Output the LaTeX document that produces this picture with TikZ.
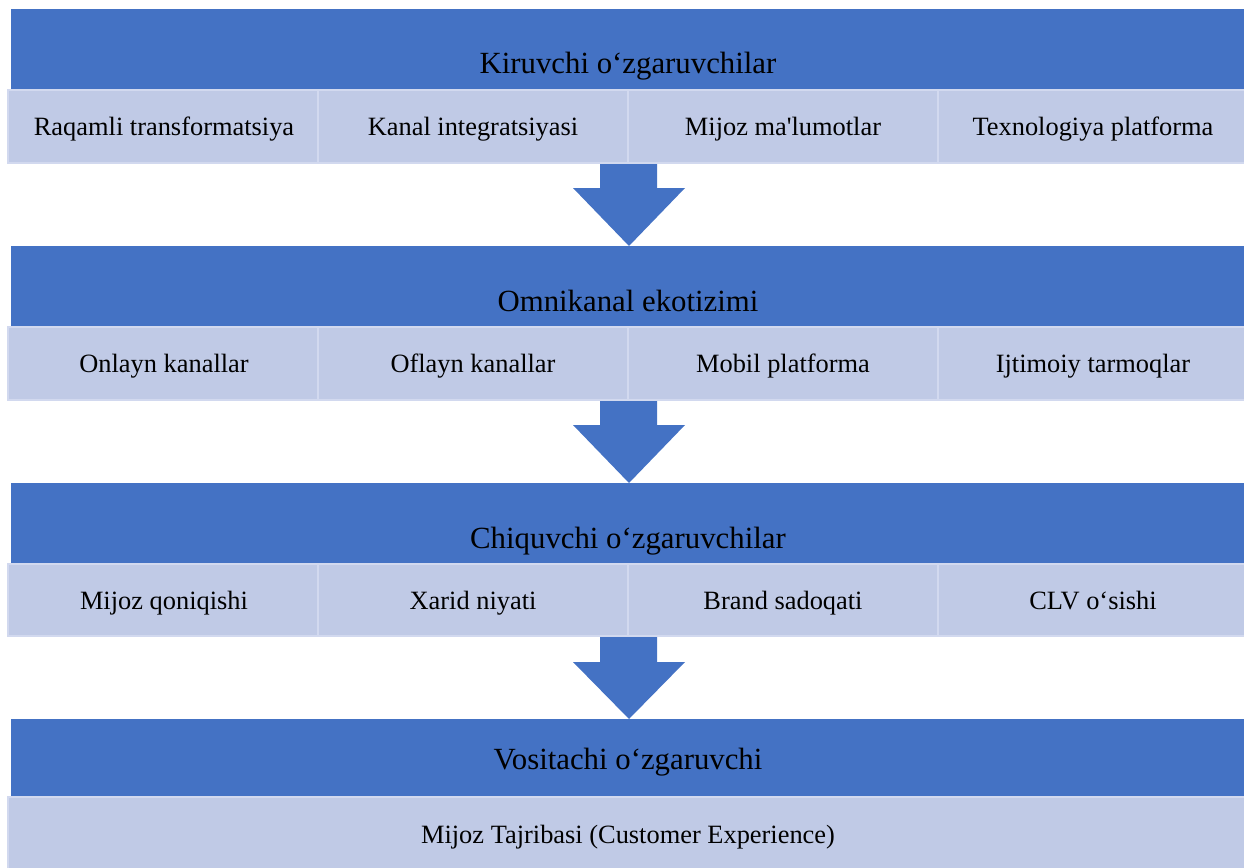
\documentclass[tikz,border=0pt]{standalone}
\usepackage{fontspec}
\setmainfont{Liberation Serif}[Ligatures=TeXOff]
\definecolor{hdrblue}{HTML}{4472C4}
\definecolor{celllight}{HTML}{C0CAE6}
\definecolor{cellline}{HTML}{D2D9EF}
\begin{document}
\begin{tikzpicture}[x=0.5pt,y=-0.5pt,
  hdr/.style={fill=hdrblue,draw=none},
  cellbox/.style={fill=celllight,draw=cellline,line width=1pt},
  hdrtext/.style={anchor=base,inner sep=0pt,font=\fontsize{15.4}{18}\selectfont},
  celltext/.style={anchor=base,inner sep=0pt,font=\fontsize{13.2}{16}\selectfont},
  downarrow/.style={fill=hdrblue,draw=none}]
\useasboundingbox (0,0) rectangle (1244,868);
\clip (0,0) rectangle (1244,868);
% ---------- Row 1 ----------
\fill[hdr] (11,9) rectangle (1250,90);
\foreach \i in {0,1,2,3}{\draw[cellbox] ({8+310*\i},90) rectangle ({318+310*\i},163);}
\node[hdrtext] (h1) at (628,73) {Kiruvchi o‘zgaruvchilar};
\node[celltext] (c11) at (164,135) {Raqamli transformatsiya};
\node[celltext] (c12) at (473,135) {Kanal integratsiyasi};
\node[celltext] (c13) at (783,135) {Mijoz ma'lumotlar};
\node[celltext] (c14) at (1093,135) {Texnologiya platforma};
% arrow 1
\fill[downarrow] (600,164) -- (657,164) -- (657,188) -- (685,188) -- (629,246) -- (573,188) -- (600,188) -- cycle;
% ---------- Row 2 ----------
\fill[hdr] (11,246) rectangle (1250,327);
\foreach \i in {0,1,2,3}{\draw[cellbox] ({8+310*\i},327) rectangle ({318+310*\i},400);}
\node[hdrtext] (h2) at (628,311) {Omnikanal ekotizimi};
\node[celltext] (c21) at (164,372) {Onlayn kanallar};
\node[celltext] (c22) at (473,372) {Oflayn kanallar};
\node[celltext] (c23) at (783,372) {Mobil platforma};
\node[celltext] (c24) at (1093,372) {Ijtimoiy tarmoqlar};
% arrow 2
\fill[downarrow] (600,401) -- (657,401) -- (657,425) -- (685,425) -- (629,483) -- (573,425) -- (600,425) -- cycle;
% ---------- Row 3 ----------
\fill[hdr] (11,483) rectangle (1250,564);
\foreach \i in {0,1,2,3}{\draw[cellbox] ({8+310*\i},564) rectangle ({318+310*\i},636);}
\node[hdrtext] (h3) at (628,548) {Chiquvchi o‘zgaruvchilar};
\node[celltext] (c31) at (164,609) {Mijoz qoniqishi};
\node[celltext] (c32) at (473,609) {Xarid niyati};
\node[celltext] (c33) at (783,609) {Brand sadoqati};
\node[celltext] (c34) at (1093,609) {CLV o‘sishi};
% arrow 3
\fill[downarrow] (600,637) -- (657,637) -- (657,662) -- (685,662) -- (629,719) -- (573,662) -- (600,662) -- cycle;
% ---------- Row 4 ----------
\fill[hdr] (11,719) rectangle (1250,797);
\draw[cellbox] (8,797) rectangle (1250,880);
\node[hdrtext] (h4) at (628,769) {Vositachi o‘zgaruvchi};
\node[celltext] (c41) at (628,843) {Mijoz Tajribasi (Customer Experience)};
\end{tikzpicture}
\end{document}
